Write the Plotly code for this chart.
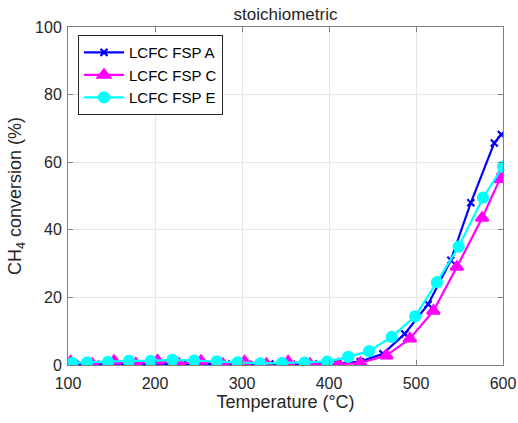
import plotly.graph_objects as go

title = "stoichiometric"
x_label = "Temperature (°C)"
y_label = "CH<sub>4</sub> conversion (%)"

names = ["LCFC FSP A", "LCFC FSP C", "LCFC FSP E"]

temp_A = [108, 132, 157, 182, 207, 232, 257, 282, 307, 332, 357, 382, 410, 436, 462, 487, 514, 540, 563, 590, 598]
conv_A = [0.3, 0.2, 0.3, 0.2, 0.4, 0.3, 0.2, 0.3, 0.2, 0.3, 0.2, 0.3, 0.4, 1.0, 3.3, 9.2, 18.0, 31.0, 48.0, 65.7, 68.2]

temp_C = [103, 128, 153, 178, 203, 228, 253, 278, 303, 328, 353, 378, 411, 436, 466, 493, 520, 547, 576, 597, 600]
conv_C = [1.0, 0.3, 1.2, 0.4, 1.3, 0.3, 1.2, 0.3, 1.0, 0.3, 1.0, 0.3, 0.2, 0.6, 2.8, 7.8, 16.0, 29.0, 43.5, 55.0, 57.0]

temp_E = [105, 122, 146, 170, 195, 220, 245, 271, 295, 321, 346, 372, 398, 422, 446, 472, 499, 524, 549, 577, 600]
conv_E = [0.6, 0.8, 0.9, 1.2, 1.2, 1.5, 1.3, 1.1, 0.8, 0.5, 0.6, 0.7, 1.0, 2.4, 4.1, 8.3, 14.4, 24.5, 35.0, 49.5, 58.7]

colors = ["#0000FF", "#FF00FF", "#00FFFF"]
symbols = ["x-thin-open", "triangle-up", "circle"]
msizes = [7, 11, 10]

FONT = "Liberation Sans, Arial, sans-serif"

fig = go.Figure()
for t, v, n, c, s, ms in zip([temp_A, temp_C, temp_E], [conv_A, conv_C, conv_E], names, colors, symbols, msizes):
    fig.add_trace(go.Scatter(
        x=t, y=v, name=n, mode="lines+markers",
        line=dict(color=c, width=2.2),
        marker=dict(symbol=s, size=ms, color=c, line=dict(color=c, width=2.2)),
    ))

axis_common = dict(
    showline=True, linecolor="#808080", linewidth=1, mirror="ticks",
    ticks="inside", ticklen=5, tickcolor="#808080",
    showgrid=True, gridcolor="#e6e6e6", gridwidth=1, zeroline=False,
    tickfont=dict(family=FONT, size=16, color="#262626"),
    automargin=False,
)

fig.update_layout(
    width=518, height=423,
    margin=dict(l=68, r=15, t=27, b=58),
    paper_bgcolor="white", plot_bgcolor="white",
    font=dict(family=FONT, color="#262626"),
    title=dict(text=title, x=0.5, xref="paper", xanchor="center", y=1, yref="paper", yanchor="bottom",
               pad=dict(b=7), font=dict(size=17, color="#262626")),
    xaxis=dict(range=[100, 600], tickvals=[100, 200, 300, 400, 500, 600], ticklabelstandoff=4,
               title=dict(text=x_label, font=dict(size=18, color="#262626"), standoff=4), **axis_common),
    yaxis=dict(range=[0, 100], tickvals=[0, 20, 40, 60, 80, 100], ticklabelstandoff=2,
               title=dict(text=y_label, font=dict(size=18, color="#262626"), standoff=8), **axis_common),
    legend=dict(x=0.023, y=0.976, xanchor="left", yanchor="top",
                bgcolor="white", bordercolor="#262626", borderwidth=1,
                font=dict(size=15, color="#000000"), tracegroupgap=0, itemwidth=40),
    showlegend=True,
)

fig.write_html("out.html")
